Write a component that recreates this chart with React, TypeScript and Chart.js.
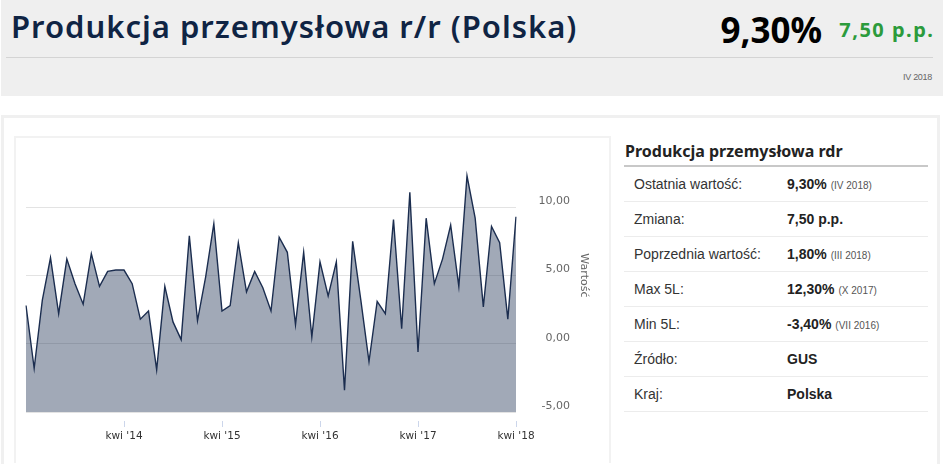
import React, { useEffect, useRef } from 'react';
import { Chart, registerables } from 'chart.js';

Chart.register(...registerables);

// ---- data ----
const MONTH_NAMES = ['sty', 'lut', 'mar', 'kwi', 'maj', 'cze', 'lip', 'sie', 'wrz', 'paź', 'lis', 'gru'];
const START_YEAR = 2013;
const START_MONTH_INDEX = 3; // kwiecień
const VALUES = [
  2.8, -1.8, 3.2, 6.3, 2.2, 6.2, 4.4, 2.9, 6.6,
  4.2, 5.3, 5.4, 5.4, 4.4, 1.8, 2.4, -1.9, 4.2, 1.6, 0.3, 7.9,
  1.7, 4.9, 8.8, 2.4, 2.8, 7.4, 3.8, 5.3, 4.1, 2.4, 7.8, 6.7,
  1.4, 6.7, 0.5, 6.0, 3.5, 6.0, -3.4, 7.5, 3.2, -1.3, 3.1, 2.2,
  9.1, 1.1, 11.1, -0.6, 9.2, 4.4, 6.2, 8.7, 4.2, 12.3, 9.2, 2.7,
  8.6, 7.4, 1.8, 9.3,
];
const CATEGORIES = VALUES.map((_, i) => {
  const m = (START_MONTH_INDEX + i) % 12;
  const y = START_YEAR + Math.floor((START_MONTH_INDEX + i) / 12);
  return `${MONTH_NAMES[m]} '${String(y).slice(2)}`;
});
const X_TICK_LABELS = ["kwi '14", "kwi '15", "kwi '16", "kwi '17", "kwi '18"];
const Y_TICKS = [-5, 0, 5, 10];
const Y_MIN = -5;
const Y_MAX = 15;

const TABLE_ROWS: { label: string; value: string; note?: string }[] = [
  { label: 'Ostatnia wartość:', value: '9,30%', note: '(IV 2018)' },
  { label: 'Zmiana:', value: '7,50 p.p.' },
  { label: 'Poprzednia wartość:', value: '1,80%', note: '(III 2018)' },
  { label: 'Max 5L:', value: '12,30%', note: '(X 2017)' },
  { label: 'Min 5L:', value: '-3,40%', note: '(VII 2016)' },
  { label: 'Źródło:', value: 'GUS' },
  { label: 'Kraj:', value: 'Polska' },
];

const tickMarks = {
  id: 'tickMarks',
  afterDraw(chart: any) {
    const xs = chart.scales.x;
    const ctx = chart.ctx;
    ctx.save();
    ctx.strokeStyle = '#ccd6eb';
    ctx.lineWidth = 1;
    xs.ticks.forEach((t: any) => {
      if (t.label === null || t.label === undefined || t.label === '') return;
      const x = Math.round(xs.getPixelForValue(t.value)) + 0.5;
      ctx.beginPath();
      ctx.moveTo(x, xs.top + 9);
      ctx.lineTo(x, xs.top + 15);
      ctx.stroke();
    });
    ctx.restore();
  },
};

function LineChart() {
  const ref = useRef<HTMLCanvasElement | null>(null);
  useEffect(() => {
    if (!ref.current) return;
    const font = { family: '"DejaVu Sans", Verdana, sans-serif', size: 10.5 };
    const chart = new Chart(ref.current, {
      type: 'line',
      data: {
        labels: CATEGORIES,
        datasets: [
          {
            data: VALUES,
            borderColor: '#1b2d4f',
            borderWidth: 1.4,
            backgroundColor: 'rgba(31,51,84,0.42)',
            fill: 'start',
            pointRadius: 0,
            tension: 0,
          },
        ],
      },
      options: {
        animation: false,
        responsive: false,
        maintainAspectRatio: false,
        layout: { padding: { left: 10, right: 39, top: 1, bottom: 0 } },
        plugins: { legend: { display: false }, tooltip: { enabled: false } },
        scales: {
          x: {
            type: 'category',
            offset: false,
            grid: { display: true, drawOnChartArea: false, drawTicks: true, tickLength: 15, color: 'transparent' },
            border: { display: false },
            ticks: {
              autoSkip: false,
              maxRotation: 0,
              minRotation: 0,
              padding: 3,
              font,
              color: '#333333',
              callback(this: any, val: any) {
                const l = this.getLabelForValue(val);
                return X_TICK_LABELS.includes(l) ? l : null;
              },
            },
            afterFit(s: any) {
              s.height = 49;
              s.paddingLeft = 0;
              s.paddingRight = 0;
            },
          },
          y: {
            position: 'right',
            min: Y_MIN,
            max: Y_MAX,
            afterBuildTicks(s: any) {
              s.ticks = Y_TICKS.map((v) => ({ value: v }));
            },
            grid: { color: '#e3e3e3', drawTicks: false },
            border: { display: false },
            ticks: {
              padding: 24,
              crossAlign: 'far',
              labelOffset: -6,
              font: { family: '"DejaVu Sans", Verdana, sans-serif', size: 11 },
              color: '#666666',
              callback: (v: any) => Number(v).toFixed(2).replace('.', ','),
            },
            title: {
              display: true,
              text: 'Wartość',
              color: '#666666',
              font: { family: '"DejaVu Sans", Verdana, sans-serif', size: 11 },
              padding: { top: -20, bottom: 0 },
            },
            afterFit(s: any) {
              s.width = 54;
              s.paddingTop = 0;
              s.paddingBottom = 0;
            },
          },
        },
      },
      plugins: [tickMarks],
    } as any);
    return () => chart.destroy();
  }, []);
  return <canvas ref={ref} width={593} height={323} style={{ width: 593, height: 323, display: 'block' }} />;
}

export default function App() {
  const sans = '"Liberation Sans", Arial, sans-serif';
  const head = '"Noto Sans", "Open Sans", sans-serif';
  return (
    <div style={{ position: 'relative', width: 945, height: 474, overflow: 'hidden', background: '#fff' }}>
      <style>{'body{margin:0}'}</style>
      {/* header */}
      <div style={{ position: 'absolute', left: 1, top: 0, width: 942, height: 96, background: '#efefef' }} />
      <div
        style={{
          position: 'absolute', left: 11, top: 11, fontFamily: head, fontSize: 31, lineHeight: '31px',
          color: '#0f2444', whiteSpace: 'nowrap', fontWeight: 600, letterSpacing: 1,
        }}
      >
        Produkcja przemysłowa r/r (Polska)
      </div>
      <div
        style={{
          position: 'absolute', right: 945 - 822, top: 12, whiteSpace: 'nowrap', fontFamily: head,
          fontSize: 35, lineHeight: '35px', fontWeight: 700, color: '#000',
        }}
      >
        9,30%
      </div>
      <div
        style={{
          position: 'absolute', right: 945 - 934.5, top: 20, whiteSpace: 'nowrap', fontFamily: head,
          fontSize: 20, lineHeight: '20px', fontWeight: 700, color: '#2c9b3c', letterSpacing: 1.5,
        }}
      >
        7,50 p.p.
      </div>
      <div style={{ position: 'absolute', left: 6, top: 57, width: 927, height: 1, background: '#d4d4d4' }} />
      <div
        style={{
          position: 'absolute', right: 945 - 932, top: 71, fontFamily: sans, fontSize: 9, color: '#666',
          lineHeight: '12px', letterSpacing: -0.3,
        }}
      >
        IV 2018
      </div>

      {/* card */}
      <div
        style={{
          position: 'absolute', left: 1, top: 115, width: 933, height: 346, border: '3px solid #f0f0f0',
          borderBottom: 'none',
        }}
      />
      {/* chart panel */}
      <div
        style={{
          position: 'absolute', left: 14, top: 136, width: 593, height: 325, border: '2px solid #f2f2f2',
          borderBottom: 'none',
        }}
      />
      <div style={{ position: 'absolute', left: 16, top: 138 }}>
        <LineChart />
      </div>

      {/* table */}
      <div style={{ position: 'absolute', left: 624, top: 138, width: 304 }}>
        <div
          style={{
            fontFamily: head, fontWeight: 700, fontSize: 16, color: '#222', lineHeight: '26px', paddingLeft: 1,
            borderBottom: '2px solid #c8c8c8', height: 27,
          }}
        >
          Produkcja przemysłowa rdr
        </div>
        {TABLE_ROWS.map((r) => (
          <div
            key={r.label}
            style={{
              position: 'relative', height: 34, borderBottom: '1px solid #ececec', fontFamily: sans, fontSize: 14,
              lineHeight: '34px', color: '#333', whiteSpace: 'nowrap',
            }}
          >
            <span style={{ position: 'absolute', left: 10 }}>{r.label}</span>
            <span style={{ position: 'absolute', left: 163 }}>
              <b style={{ color: '#222' }}>{r.value}</b>
              {r.note ? <span style={{ fontSize: 10, color: '#555', marginLeft: 4 }}>{r.note}</span> : null}
            </span>
          </div>
        ))}
      </div>
    </div>
  );
}
